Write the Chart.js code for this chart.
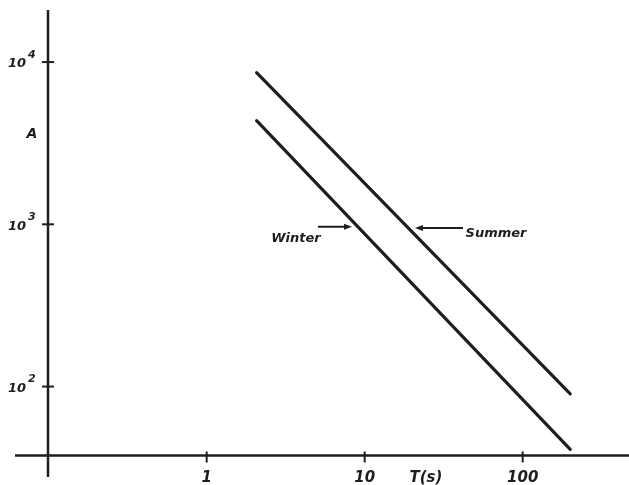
<!DOCTYPE html>
<html>
<head>
<meta charset="utf-8">
<script src="https://cdn.jsdelivr.net/npm/chart.js@4/dist/chart.umd.min.js"></script>
<style>
  html, body { margin: 0; padding: 0; background: #ffffff; }
  #wrap { width: 629px; height: 485px; }
</style>
</head>
<body>
<div id="wrap"><canvas id="c" width="629" height="485"></canvas></div>
<script>
// Period T (s) at the ends of each straight log-log line
const periods = [2.07, 200];
// Amplitude A for each season
const summerA = [8600, 90];
const winterA = [4350, 41];

// Axis ticks
const xTickValues = [1, 10, 100];
const xTickLabels = ['1', '10', '100'];
const yTickExponents = [2, 3, 4];
const yTickBase = '10';

// Where the two axes cross (data units)
const axisCrossT = 0.099;
const axisCrossA = 37.6;

// Axis titles
const yTitle = 'A';
const yTitleAt = { y: 3600 };
const xTitle = 'T(s)';
const xTitleAt = { x: 24.4 };

// Curve labels with arrows: [label, labelT, labelA, arrowFromT, arrowToT, arrowA]
const seasonNotes = [
  ['Winter', 3.67, 812, 5.06, 8.31, 966],
  ['Summer', 67.8, 871, 41.9, 20.8, 948]
];

const INK = '#1e1e1e';
const FONT = '"DejaVu Sans", "Liberation Sans", sans-serif';

function toPoints(xs, ys) { return xs.map((x, i) => ({ x: x, y: ys[i] })); }

const axesPlugin = {
  id: 'crossedAxes',
  afterDatasetsDraw(chart) {
    const ctx = chart.ctx;
    const xs = chart.scales.x, ys = chart.scales.y;
    const area = chart.chartArea;
    const ax = xs.getPixelForValue(axisCrossT);
    const ay = ys.getPixelForValue(axisCrossA);
    ctx.save();
    ctx.strokeStyle = INK;
    ctx.fillStyle = INK;
    ctx.lineCap = 'butt';

    // axis lines
    ctx.lineWidth = 2.5;
    ctx.beginPath();
    ctx.moveTo(area.left, ay); ctx.lineTo(area.right, ay);
    ctx.moveTo(ax, area.top); ctx.lineTo(ax, area.bottom);
    ctx.stroke();

    // x ticks and labels
    ctx.lineWidth = 2;
    ctx.font = 'italic bold 15px ' + FONT;
    ctx.textAlign = 'center';
    ctx.textBaseline = 'top';
    xTickValues.forEach((v, i) => {
      const px = xs.getPixelForValue(v);
      ctx.beginPath();
      ctx.moveTo(px, ay - 4); ctx.lineTo(px, ay + 7);
      ctx.stroke();
      ctx.fillText(xTickLabels[i], px, ay + 15);
    });
    ctx.fillText(xTitle, xs.getPixelForValue(xTitleAt.x), ay + 15);

    // y ticks and labels with raised exponents
    yTickExponents.forEach((e) => {
      const py = ys.getPixelForValue(Math.pow(10, e));
      ctx.beginPath();
      ctx.moveTo(ax - 6, py); ctx.lineTo(ax + 6, py);
      ctx.stroke();
      ctx.font = 'italic bold 13px ' + FONT;
      ctx.textAlign = 'right';
      ctx.textBaseline = 'middle';
      ctx.fillText(yTickBase, ax - 22, py + 2);
      ctx.font = 'italic bold 11px ' + FONT;
      ctx.textAlign = 'left';
      ctx.fillText(String(e), ax - 20, py - 7);
    });

    // y title
    ctx.font = 'italic bold 14px ' + FONT;
    ctx.textAlign = 'center';
    ctx.textBaseline = 'middle';
    ctx.fillText(yTitle, ax - 16, ys.getPixelForValue(yTitleAt.y));

    // season labels with arrows pointing at their lines
    seasonNotes.forEach((n) => {
      const [label, lt, la, fromT, toT, arA] = n;
      ctx.font = 'italic bold 13px ' + FONT;
      ctx.textAlign = 'center';
      ctx.textBaseline = 'middle';
      ctx.fillText(label, xs.getPixelForValue(lt), ys.getPixelForValue(la));
      const x0 = xs.getPixelForValue(fromT);
      const x1 = xs.getPixelForValue(toT);
      const y = ys.getPixelForValue(arA);
      const dir = Math.sign(x1 - x0);
      ctx.lineWidth = 2;
      ctx.beginPath();
      ctx.moveTo(x0, y); ctx.lineTo(x1 - dir * 5, y);
      ctx.stroke();
      ctx.beginPath();
      ctx.moveTo(x1, y);
      ctx.lineTo(x1 - dir * 8, y - 3);
      ctx.lineTo(x1 - dir * 8, y + 3);
      ctx.closePath();
      ctx.fill();
    });
    ctx.restore();
  }
};

new Chart(document.getElementById('c'), {
  type: 'line',
  data: {
    datasets: [
      {
        label: 'Summer',
        data: toPoints(periods, summerA),
        borderColor: INK,
        borderWidth: 3.2,
        borderCapStyle: 'round',
        pointRadius: 0,
        fill: false,
        tension: 0
      },
      {
        label: 'Winter',
        data: toPoints(periods, winterA),
        borderColor: INK,
        borderWidth: 3.2,
        borderCapStyle: 'round',
        pointRadius: 0,
        fill: false,
        tension: 0
      }
    ]
  },
  options: {
    responsive: false,
    animation: false,
    devicePixelRatio: 1,
    layout: { padding: { left: 15, top: 10, right: 0, bottom: 8 } },
    plugins: { legend: { display: false }, tooltip: { enabled: false } },
    scales: {
      x: { type: 'logarithmic', min: 0.0612, max: 471, display: false },
      y: { type: 'logarithmic', min: 27.7, max: 20940, display: false }
    }
  },
  plugins: [axesPlugin]
});
</script>
</body>
</html>
